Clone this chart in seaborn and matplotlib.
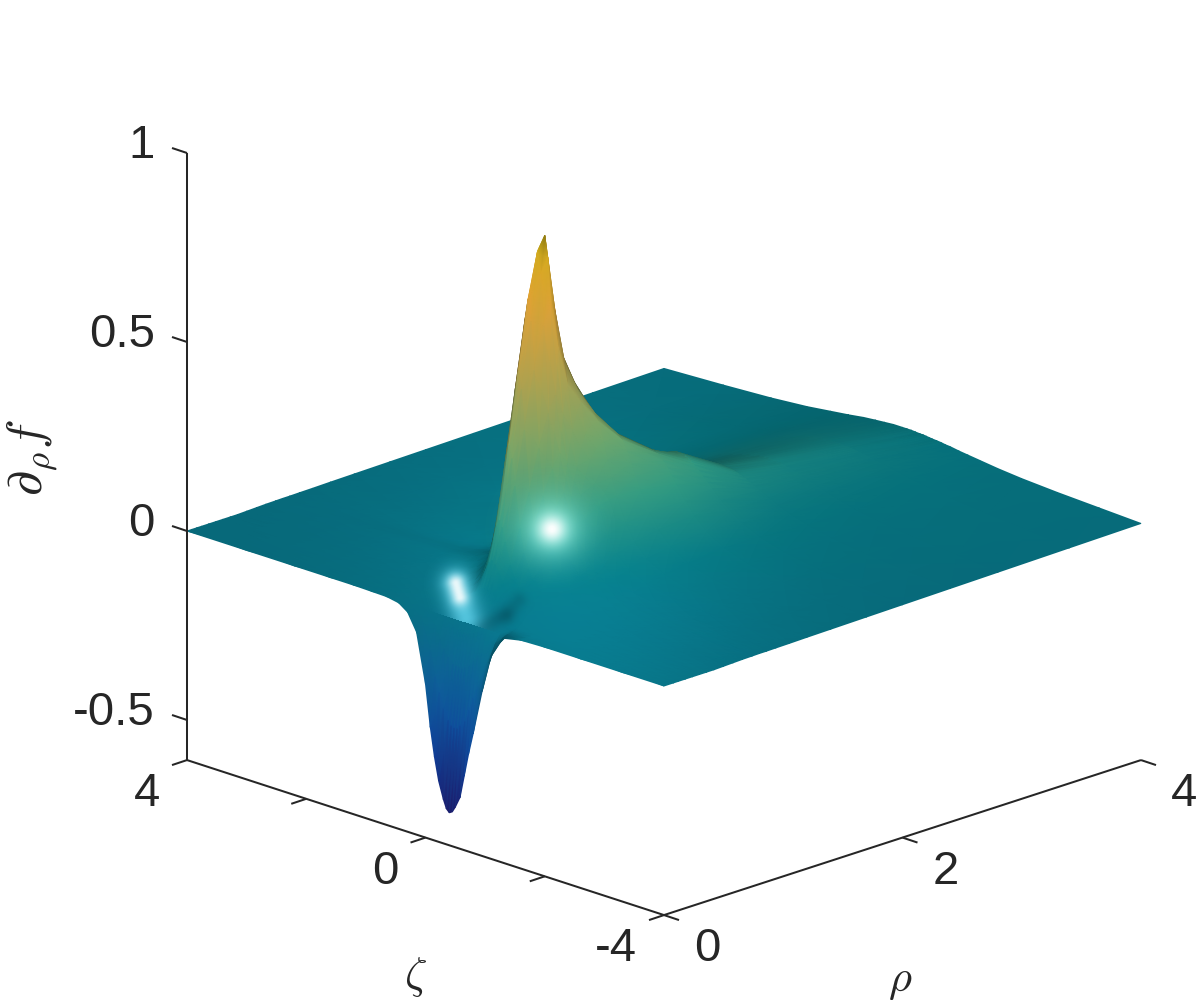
import numpy as np
import matplotlib
matplotlib.use('Agg')
import matplotlib.pyplot as plt
import seaborn as sns

# values
rho = [0, .04, .08, .12, .18, .24, .3, .36, .42, .5, .58, .66, .74, .8, .86, .94,
       1.05, 1.2, 1.4, 1.7, 2, 2.4, 2.8, 3.4, 4]
zeta = [4, 3, 2.2, 1.6, 1.2, .9, .65, .45, .3, .15, 0, -.08, -.15, -.22, -.3, -.35, -.4,
        -.45, -.5, -.58, -.65, -.72, -.8, -.95, -1.1, -1.3, -1.6, -2, -2.6, -3.3, -4]

# one row per rho, one column per zeta
dfdrho = [
    [0, 0, 0, 0, 0, -.001, -.002, -.008, -.025, -.07, -.2, -.31, -.385, -.445, -.49, -.512, -.52, -.515, -.5, -.47, -.41, -.35, -.29, -.17, -.07, -.012, -.002, 0, 0, 0, 0],
    [0, 0, 0, 0, 0, -.001, -.001, -.005, -.015, -.04, -.115, -.18, -.22, -.258, -.285, -.297, -.3, -.299, -.29, -.273, -.24, -.205, -.17, -.1, -.04, -.007, -.001, 0, 0, 0, 0],
    [0, 0, 0, 0, 0, 0, -.001, -.003, -.008, -.02, -.055, -.087, -.11, -.126, -.14, -.143, -.145, -.144, -.14, -.13, -.115, -.098, -.08, -.048, -.02, -.004, -.001, 0, 0, 0, 0],
    [0, 0, 0, 0, 0, 0, 0, -.001, -.003, -.007, -.018, -.029, -.04, -.048, -.055, -.057, -.058, -.058, -.055, -.05, -.042, -.035, -.028, -.016, -.007, -.002, 0, 0, 0, 0, 0],
    [0, 0, 0, 0, 0, 0, 0, 0, 0, 0, -.002, -.005, -.008, -.011, -.014, -.015, -.015, -.015, -.014, -.012, -.01, -.007, -.004, 0, 0, 0, 0, 0, 0, 0, 0],
    [0, 0, 0, 0, 0, .001, .001, .001, .001, .002, .003, .004, .005, .007, .009, .0095, .01, .0095, .009, .007, .005, .004, .003, .002, .001, .001, 0, 0, 0, 0, 0],
    [0, 0, 0, .001, .001, .001, .001, .002, .003, .005, .008, .011, .016, .022, .032, .038, .04, .038, .032, .022, .016, .011, .008, .005, .003, .002, .001, .001, 0, 0, 0],
    [0, 0, .001, .001, .001, .002, .003, .005, .007, .011, .018, .026, .037, .055, .084, .102, .11, .102, .084, .055, .037, .026, .018, .011, .007, .004, .002, .001, .001, 0, 0],
    [0, .001, .001, .001, .002, .004, .005, .008, .012, .018, .032, .046, .066, .099, .156, .193, .21, .193, .156, .099, .066, .046, .032, .018, .012, .007, .004, .002, .001, .001, 0],
    [.001, .001, .002, .003, .004, .007, .01, .015, .022, .035, .061, .088, .126, .189, .297, .368, .4, .368, .297, .189, .126, .088, .061, .035, .022, .014, .008, .004, .002, .001, .001],
    [.002, .002, .002, .004, .006, .01, .015, .022, .033, .051, .09, .13, .186, .277, .438, .543, .59, .543, .438, .277, .186, .13, .09, .051, .033, .02, .012, .006, .004, .002, .002],
    [.003, .003, .004, .006, .009, .015, .022, .033, .048, .075, .129, .185, .262, .385, .588, .715, .77, .715, .588, .385, .262, .185, .129, .075, .048, .029, .017, .009, .005, .003, .003],
    [.0035, .004, .005, .008, .012, .019, .028, .043, .061, .095, .164, .231, .326, .469, .697, .832, .89, .832, .697, .469, .326, .231, .164, .095, .061, .038, .021, .012, .007, .004, .0035],
    [.004, .004, .006, .009, .014, .021, .032, .048, .069, .108, .185, .26, .361, .511, .74, .87, .925, .87, .74, .511, .361, .26, .185, .108, .069, .043, .025, .014, .007, .005, .004],
    [.004, .004, .005, .009, .014, .021, .032, .048, .068, .105, .176, .244, .331, .455, .63, .723, .76, .723, .63, .455, .331, .244, .176, .105, .068, .043, .025, .014, .008, .005, .004],
    [.0045, .005, .006, .01, .016, .023, .035, .052, .073, .11, .178, .239, .312, .406, .523, .578, .6, .578, .523, .406, .312, .239, .178, .11, .073, .046, .027, .016, .008, .006, .0045],
    [.005, .007, .011, .018, .024, .034, .048, .068, .092, .133, .202, .255, .319, .386, .465, .493, .51, .493, .465, .386, .319, .255, .202, .133, .092, .062, .038, .024, .014, .008, .005],
    [.006, .008, .014, .022, .03, .042, .059, .081, .108, .15, .214, .259, .304, .349, .397, .414, .42, .414, .397, .349, .304, .259, .214, .15, .108, .074, .048, .03, .017, .009, .006],
    [.007, .01, .018, .027, .037, .05, .069, .093, .12, .158, .21, .243, .273, .302, .327, .337, .34, .337, .327, .302, .273, .243, .21, .158, .12, .086, .056, .037, .021, .012, .007],
    [.0085, .013, .022, .033, .045, .06, .079, .103, .127, .158, .195, .215, .233, .247, .26, .264, .266, .264, .26, .247, .233, .215, .195, .158, .127, .096, .067, .045, .027, .015, .0085],
    [.01, .016, .03, .043, .059, .078, .103, .129, .153, .178, .201, .211, .217, .22, .219, .217, .213, .208, .201, .19, .178, .166, .153, .129, .109, .087, .065, .046, .03, .018, .01],
    [.012, .018, .031, .042, .056, .071, .088, .104, .116, .128, .137, .14, .142, .142, .14, .139, .137, .134, .131, .126, .12, .114, .107, .095, .083, .07, .056, .042, .029, .019, .012],
    [.014, .021, .035, .047, .06, .073, .086, .097, .105, .112, .116, .118, .118, .118, .116, .115, .114, .112, .11, .106, .103, .099, .095, .086, .078, .068, .056, .044, .032, .023, .014],
    [.017, .025, .04, .051, .061, .071, .08, .086, .09, .093, .095, .095, .095, .094, .093, .092, .091, .09, .089, .086, .084, .082, .079, .074, .069, .062, .054, .045, .035, .026, .017],
    [.02, .027, .034, .042, .05, .056, .062, .065, .067, .069, .069, .069, .069, .068, .067, .067, .066, .065, .064, .063, .062, .06, .059, .055, .052, .048, .042, .036, .03, .025, .02],
]

z_ticks = [-.5, 0, .5, 1]
z_labels = ['-0.5', '0', '0.5', '1']
zeta_ticks = [4, 2, 0, -2, -4]
rho_ticks = [0, 2, 4]
z_floor = -.606

# colours along the height of the surface, evenly spaced from lowest to highest
surface_colors = ['#1e1e73', '#0f41a0', '#0f5c9e', '#0a6a88', '#067782', '#32967d',
                  '#69a069', '#969b55', '#be9b41', '#dc9b32', '#c3aa14']

sns.set_theme(style='white', font='Liberation Sans')
plt.rcParams['mathtext.fontset'] = 'cm'
cmap = sns.blend_palette(surface_colors, as_cmap=True)
ink = '.15'


def project(r, s, h):
    # same box as the figure: rho runs up right, zeta runs up left
    a = np.asarray(r, dtype=float) / 4
    b = (4 - np.asarray(s, dtype=float)) / 8
    return 187 + 477 * (a + b), 531 + 155 * (b - a) - 378 * np.asarray(h, dtype=float)


def soft_spot(px, py, x0, y0, x1, y1, width):
    # distance to a short segment, gives round or stretched highlights
    dx, dy = x1 - x0, y1 - y0
    t = ((px - x0) * dx + (py - y0) * dy) / max(dx * dx + dy * dy, 1e-9)
    t = np.clip(t, 0, 1)
    dist = np.hypot(px - (x0 + t * dx), py - (y0 + t * dy))
    return np.exp(-(dist / width) ** 2)


rho_arr = np.array(rho)
zeta_arr = np.array(zeta)
z_arr = np.array(dfdrho)
rr, ss = np.meshgrid(rho_arr, zeta_arr, indexing='ij')
px, py = project(rr, ss, z_arr)

# --- shading: view based, flat parts keep the plain colour ---
world_x = rho_arr / 4 * 675
world_y = (4 - zeta_arr) / 8 * 675
dz_dx = np.gradient(z_arr * 400, world_x, axis=0)
dz_dy = np.gradient(z_arr * 400, world_y, axis=1)
facing = (.669 * dz_dx - .669 * dz_dy + .325) / np.sqrt(1 + dz_dx ** 2 + dz_dy ** 2)
shade = np.where(facing < .325, .66 + .34 * np.clip(facing, 0, 1) / .325, 1)

# broad light on the low part of the sheet, the tall ridge keeps its colour
broad = .92 + .2 * soft_spot(px, py, 575, 590, 575, 590, 170)
shade = shade * (broad + (1.04 - broad) * np.clip(z_arr / .3, 0, 1))

norm = plt.Normalize(-.52, .925)
rgb = np.clip(cmap(norm(z_arr))[..., :3] * shade[..., None], 0, 1)

fig = plt.figure(figsize=(12, 10), dpi=100)
ax = fig.add_axes([0, 0, 1, 1])

# far to near so nearer triangles cover the ones behind
ax.pcolormesh(px[::-1, :], py[::-1, :], rgb[::-1, :], shading='gouraud', zorder=2)

# --- highlights on top of the surface ---
yy, xx = np.mgrid[0:1000, 0:1200] + .5
over = np.zeros((1000, 1200, 4))


def add_light(core, halo, halo_color):
    new_rgb = halo_color * (1 - core[..., None]) + core[..., None]
    alpha = core + halo * (1 - core)
    total = alpha + over[..., 3] * (1 - alpha)
    mixed = new_rgb * alpha[..., None] + over[..., :3] * (over[..., 3] * (1 - alpha))[..., None]
    over[..., :3] = mixed / np.maximum(total, 1e-6)[..., None]
    over[..., 3] = total


above_edge = yy < 531 + 155 * (xx - 187) / 477 + 1
no_core = np.zeros_like(xx)
# dark fold next to the rim of the dip
dark = np.array([.02, .25, .3])
add_light(no_core, .3 * soft_spot(xx, yy, 482, 626, 506, 615, 8) * above_edge, dark)
add_light(no_core, .22 * soft_spot(xx, yy, 506, 615, 519, 600, 8) * above_edge, dark)
add_light(soft_spot(xx, yy, 552, 529, 552, 529, 15),
          .6 * soft_spot(xx, yy, 552, 529, 552, 529, 32),
          np.array([.6, 1, .95]))
add_light(.9 * soft_spot(xx, yy, 456, 583, 460, 597, 9) * above_edge,
          .7 * soft_spot(xx, yy, 456, 584, 466, 618, 16) * above_edge,
          np.array([.45, .9, 1]))
ax.imshow(over, extent=(0, 1200, 1000, 0), aspect='auto', zorder=2.5, interpolation='bilinear')

ax.set_xlim(0, 1200)
ax.set_ylim(1000, 0)
ax.axis('off')

# --- axes of the box ---
line_kw = dict(color=ink, lw=1.45, solid_capstyle='butt', zorder=3)

xs, ys = project([0, 0], [4, 4], [z_floor, 1])
ax.plot(xs, ys, **line_kw)
xs, ys = project([0, 0], [4, -4], [z_floor, z_floor])
ax.plot(xs, ys, **line_kw)
xs, ys = project([0, 4], [-4, -4], [z_floor, z_floor])
ax.plot(xs, ys, **line_kw)

for t in z_ticks:
    x0, y0 = project(0, 4, t)
    ax.plot([x0, x0 - 15], [y0, y0 - 5], **line_kw)
for t in zeta_ticks:
    x0, y0 = project(0, t, z_floor)
    ax.plot([x0, x0 - 15], [y0, y0 + 5], **line_kw)
for t in rho_ticks:
    x0, y0 = project(t, -4, z_floor)
    ax.plot([x0, x0 + 15], [y0, y0 + 5], **line_kw)

font = dict(fontsize=34, color=ink)
for t, lab in zip(z_ticks, z_labels):
    x0, y0 = project(0, 4, t)
    ax.text(x0 - 32, y0 - 7, lab, ha='right', va='center', **font)
for t, lab in zip([4, 0, -4], ['4', '0', '-4']):
    x0, y0 = project(0, t, z_floor)
    ax.text(x0 - 27, y0 + 34, lab, ha='right', va='center', **font)
for t in rho_ticks:
    x0, y0 = project(t, -4, z_floor)
    ax.text(x0 + 43, y0 + 34, str(t), ha='center', va='center', **font)

ax.text(416, 977, r'$\zeta$', ha='center', va='center', fontsize=32, color=ink)
ax.text(900, 981, r'$\rho$', ha='center', va='center', fontsize=32, color=ink)
ax.text(32, 458, r'$\partial_\rho f$', ha='center', va='center', rotation=90, fontsize=36, color=ink)

fig.savefig('out.png', dpi=100)
